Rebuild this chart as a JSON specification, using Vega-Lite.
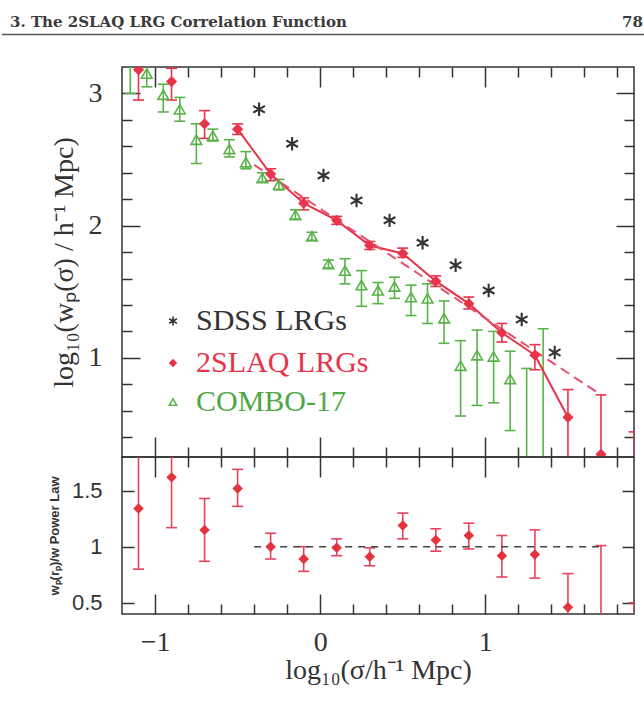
{
  "$schema": "https://vega.github.io/schema/vega-lite/v6.json",
  "autosize": {"type": "pad"},
  "padding": {"left": 0, "top": 14, "right": 0, "bottom": 0},
  "background": "white",
  "spacing": 0,
  "bounds": "flush",
  "config": {
    "view": {"stroke": "#333333", "strokeWidth": 1.5},
    "axis": {"grid": false, "domain": false},
    "font": "Liberation Serif"
  },
  "datasets": {
    "top": [
      {"series": "COMBO-17", "x": -1.15, "y": 3.3, "lo": 3.0, "hi": 3.6},
      {"series": "COMBO-17", "x": -1.05, "y": 3.15, "lo": 3.05, "hi": 3.21},
      {"series": "COMBO-17", "x": -0.95, "y": 2.99, "lo": 2.86, "hi": 3.07},
      {"series": "COMBO-17", "x": -0.85, "y": 2.88, "lo": 2.79, "hi": 2.97},
      {"series": "COMBO-17", "x": -0.75, "y": 2.65, "lo": 2.47, "hi": 2.77},
      {"series": "COMBO-17", "x": -0.65, "y": 2.68, "lo": 2.64, "hi": 2.73},
      {"series": "COMBO-17", "x": -0.55, "y": 2.58, "lo": 2.52, "hi": 2.65},
      {"series": "COMBO-17", "x": -0.45, "y": 2.48, "lo": 2.43, "hi": 2.56},
      {"series": "COMBO-17", "x": -0.35, "y": 2.36, "lo": 2.33, "hi": 2.4},
      {"series": "COMBO-17", "x": -0.25, "y": 2.31, "lo": 2.27, "hi": 2.35},
      {"series": "COMBO-17", "x": -0.15, "y": 2.08, "lo": 2.05, "hi": 2.12},
      {"series": "COMBO-17", "x": -0.05, "y": 1.92, "lo": 1.89, "hi": 1.95},
      {"series": "COMBO-17", "x": 0.05, "y": 1.71, "lo": 1.68, "hi": 1.74},
      {"series": "COMBO-17", "x": 0.15, "y": 1.66, "lo": 1.56, "hi": 1.75},
      {"series": "COMBO-17", "x": 0.25, "y": 1.55, "lo": 1.39, "hi": 1.66},
      {"series": "COMBO-17", "x": 0.35, "y": 1.51, "lo": 1.41, "hi": 1.57},
      {"series": "COMBO-17", "x": 0.45, "y": 1.54, "lo": 1.45, "hi": 1.61},
      {"series": "COMBO-17", "x": 0.55, "y": 1.46, "lo": 1.32, "hi": 1.55},
      {"series": "COMBO-17", "x": 0.65, "y": 1.45, "lo": 1.26, "hi": 1.56},
      {"series": "COMBO-17", "x": 0.75, "y": 1.3, "lo": 1.11, "hi": 1.43},
      {"series": "COMBO-17", "x": 0.85, "y": 0.94, "lo": 0.56, "hi": 1.13},
      {"series": "COMBO-17", "x": 0.95, "y": 1.02, "lo": 0.64, "hi": 1.21},
      {"series": "COMBO-17", "x": 1.05, "y": 1.01, "lo": 0.66, "hi": 1.2},
      {"series": "COMBO-17", "x": 1.15, "y": 0.84, "lo": 0.45, "hi": 1.05},
      {"series": "COMBO-17", "x": 1.25, "y": 0.15, "lo": -0.5, "hi": 0.92},
      {"series": "COMBO-17", "x": 1.35, "y": 0.2, "lo": -0.5, "hi": 1.22},
      {"series": "SDSS LRGs", "x": -0.37, "y": 2.88},
      {"series": "SDSS LRGs", "x": -0.17, "y": 2.62},
      {"series": "SDSS LRGs", "x": 0.02, "y": 2.38},
      {"series": "SDSS LRGs", "x": 0.22, "y": 2.19},
      {"series": "SDSS LRGs", "x": 0.42, "y": 2.04},
      {"series": "SDSS LRGs", "x": 0.62, "y": 1.87},
      {"series": "SDSS LRGs", "x": 0.82, "y": 1.7},
      {"series": "SDSS LRGs", "x": 1.02, "y": 1.51},
      {"series": "SDSS LRGs", "x": 1.22, "y": 1.29},
      {"series": "SDSS LRGs", "x": 1.42, "y": 1.04},
      {"series": "2SLAQ LRGs", "x": -1.1, "y": 3.18, "lo": 2.95, "hi": 3.45},
      {"series": "2SLAQ LRGs", "x": -0.9, "y": 3.09, "lo": 2.95, "hi": 3.19},
      {"series": "2SLAQ LRGs", "x": -0.7, "y": 2.77, "lo": 2.66, "hi": 2.87},
      {"series": "2SLAQ LRGs", "x": -0.5, "y": 2.73, "lo": 2.69, "hi": 2.77},
      {"series": "2SLAQ LRGs", "x": -0.3, "y": 2.39, "lo": 2.34, "hi": 2.43},
      {"series": "2SLAQ LRGs", "x": -0.1, "y": 2.17, "lo": 2.12, "hi": 2.21},
      {"series": "2SLAQ LRGs", "x": 0.1, "y": 2.04, "lo": 2.01, "hi": 2.07},
      {"series": "2SLAQ LRGs", "x": 0.3, "y": 1.85, "lo": 1.82, "hi": 1.88},
      {"series": "2SLAQ LRGs", "x": 0.5, "y": 1.79, "lo": 1.76, "hi": 1.83},
      {"series": "2SLAQ LRGs", "x": 0.7, "y": 1.58, "lo": 1.54, "hi": 1.62},
      {"series": "2SLAQ LRGs", "x": 0.9, "y": 1.41, "lo": 1.37, "hi": 1.46},
      {"series": "2SLAQ LRGs", "x": 1.1, "y": 1.19, "lo": 1.12, "hi": 1.26},
      {"series": "2SLAQ LRGs", "x": 1.3, "y": 1.02, "lo": 0.91, "hi": 1.1},
      {"series": "2SLAQ LRGs", "x": 1.5, "y": 0.55, "lo": 0.0, "hi": 0.76},
      {"series": "2SLAQ LRGs", "x": 1.7, "y": 0.27, "lo": 0.0, "hi": 0.72},
      {"series": "2SLAQ LRGs", "x": 1.9, "y": 0.1, "lo": 0.0, "hi": 0.44}
    ],
    "fit": [
      {"x": -0.4, "y": 2.46},
      {"x": 1.7, "y": 0.72}
    ],
    "ratio": [
      {"x": -1.1, "r": 1.34, "lo": 0.8, "hi": 2.0},
      {"x": -0.9, "r": 1.62, "lo": 1.17, "hi": 2.0},
      {"x": -0.7, "r": 1.15, "lo": 0.87, "hi": 1.43},
      {"x": -0.5, "r": 1.52, "lo": 1.36, "hi": 1.69},
      {"x": -0.3, "r": 1.0, "lo": 0.89, "hi": 1.12},
      {"x": -0.1, "r": 0.89, "lo": 0.78, "hi": 1.0},
      {"x": 0.1, "r": 0.99, "lo": 0.92, "hi": 1.07},
      {"x": 0.3, "r": 0.91, "lo": 0.83, "hi": 0.99},
      {"x": 0.5, "r": 1.19, "lo": 1.07, "hi": 1.3},
      {"x": 0.7, "r": 1.06, "lo": 0.96, "hi": 1.16},
      {"x": 0.9, "r": 1.1, "lo": 0.98, "hi": 1.21},
      {"x": 1.1, "r": 0.92, "lo": 0.73, "hi": 1.1},
      {"x": 1.3, "r": 0.93, "lo": 0.72, "hi": 1.15},
      {"x": 1.5, "r": 0.46, "lo": 0.2, "hi": 0.76},
      {"x": 1.7, "r": 0.3, "lo": 0.1, "hi": 1.01},
      {"x": 1.9, "r": 0.2, "lo": 0.1, "hi": 0.5}
    ],
    "ratioline": [
      {"x": -0.4, "r": 1.0},
      {"x": 1.7, "r": 1.0}
    ]
  },
  "vconcat": [
    {
      "width": 512,
      "height": 390,
      "resolve": {"axis": {"x": "independent", "y": "independent"}},
      "layer": [
        {
          "data": {"name": "top"},
          "transform": [{"filter": "isValid(datum.lo)"}],
          "mark": {"type": "rule", "strokeWidth": 1.6, "clip": true},
          "encoding": {
            "x": {"field": "x", "type": "quantitative", "scale": {"domain": [-1.2, 1.9], "nice": false, "zero": false},
              "axis": {"orient": "bottom", "values": [-1,-0.8,-0.6,-0.4,-0.2,0,0.2,0.4,0.6,0.8,1,1.2,1.4,1.6,1.8], "labels": false, "title": null, "domain": false, "grid": false, "tickColor": "#333333", "tickWidth": 1.5,
                "tickSize": {"condition": {"test": "abs(datum.value - round(datum.value)) < 0.001", "value": -20}, "value": -10}}},
            "y": {"field": "lo", "type": "quantitative", "scale": {"domain": [0.25, 3.2], "nice": false, "zero": false},
              "axis": {"orient": "left", "values": [1, 2, 3], "ticks": false, "domain": false, "grid": false, "format": "~g", "labelFont": "Liberation Serif", "labelFontSize": 28, "labelColor": "#333333", "labelPadding": 20,
                "title": "log₁₀(wₚ(σ) / h⁻¹ Mpc)", "titleFont": "Liberation Serif", "titleFontSize": 28, "titleFontWeight": "normal", "titleColor": "#333333", "titlePadding": 10}},
            "y2": {"field": "hi"},
            "stroke": {"condition": {"test": "datum.series == 'COMBO-17'", "value": "#5ab34a"}, "value": "#e8344a"}
          }
        },
        {
          "data": {"name": "top"},
          "transform": [{"filter": "isValid(datum.lo)"}],
          "mark": {"type": "point", "shape": "M-1,0L1,0", "size": 121, "strokeWidth": 1.6, "filled": false, "opacity": 1, "clip": true},
          "encoding": {
            "x": {"field": "x", "type": "quantitative", "scale": {"domain": [-1.2, 1.9], "nice": false, "zero": false},
              "axis": {"orient": "top", "values": [-1,-0.8,-0.6,-0.4,-0.2,0,0.2,0.4,0.6,0.8,1,1.2,1.4,1.6,1.8], "labels": false, "title": null, "domain": false, "grid": false, "tickColor": "#333333", "tickWidth": 1.5,
                "tickSize": {"condition": {"test": "abs(datum.value - round(datum.value)) < 0.001", "value": -20}, "value": -10}}},
            "y": {"field": "lo", "type": "quantitative", "scale": {"domain": [0.25, 3.2], "nice": false, "zero": false},
              "axis": {"orient": "left", "values": [0.4,0.6,0.8,1,1.2,1.4,1.6,1.8,2,2.2,2.4,2.6,2.8,3], "labels": false, "title": null, "domain": false, "grid": false, "tickColor": "#333333", "tickWidth": 1.5,
                "tickSize": {"condition": {"test": "abs(datum.value - round(datum.value)) < 0.001", "value": -18}, "value": -10}}},
            "stroke": {"condition": {"test": "datum.series == 'COMBO-17'", "value": "#5ab34a"}, "value": "#e8344a"}
          }
        },
        {
          "data": {"name": "top"},
          "transform": [{"filter": "isValid(datum.hi)"}],
          "mark": {"type": "point", "shape": "M-1,0L1,0", "size": 121, "strokeWidth": 1.6, "filled": false, "opacity": 1, "clip": true},
          "encoding": {
            "x": {"field": "x", "type": "quantitative", "scale": {"domain": [-1.2, 1.9], "nice": false, "zero": false}, "axis": null},
            "y": {"field": "hi", "type": "quantitative", "scale": {"domain": [0.25, 3.2], "nice": false, "zero": false},
              "axis": {"orient": "right", "values": [0.4,0.6,0.8,1,1.2,1.4,1.6,1.8,2,2.2,2.4,2.6,2.8,3], "labels": false, "title": null, "domain": false, "grid": false, "tickColor": "#333333", "tickWidth": 1.5,
                "tickSize": {"condition": {"test": "abs(datum.value - round(datum.value)) < 0.001", "value": -18}, "value": -10}}},
            "stroke": {"condition": {"test": "datum.series == 'COMBO-17'", "value": "#5ab34a"}, "value": "#e8344a"}
          }
        },
        {
          "data": {"name": "top"},
          "transform": [{"filter": "datum.series == '2SLAQ LRGs' && datum.x > -0.55 && datum.x < 1.55"}],
          "mark": {"type": "line", "color": "#e8344a", "strokeWidth": 2, "clip": true},
          "encoding": {
            "x": {"field": "x", "type": "quantitative", "scale": {"domain": [-1.2, 1.9], "nice": false, "zero": false}, "axis": null},
            "y": {"field": "y", "type": "quantitative", "scale": {"domain": [0.25, 3.2], "nice": false, "zero": false}, "axis": null}
          }
        },
        {
          "data": {"name": "fit"},
          "mark": {"type": "line", "color": "#e5506e", "strokeWidth": 2, "strokeDash": [10, 6], "clip": true},
          "encoding": {
            "x": {"field": "x", "type": "quantitative", "scale": {"domain": [-1.2, 1.9], "nice": false, "zero": false}, "axis": null},
            "y": {"field": "y", "type": "quantitative", "scale": {"domain": [0.25, 3.2], "nice": false, "zero": false}, "axis": null}
          }
        },
        {
          "data": {"name": "top"},
          "transform": [{"filter": "datum.series == 'COMBO-17'"}],
          "mark": {"type": "point", "shape": "triangle-up", "filled": false, "size": 115, "strokeWidth": 1.6, "opacity": 1, "clip": true},
          "encoding": {
            "x": {"field": "x", "type": "quantitative", "scale": {"domain": [-1.2, 1.9], "nice": false, "zero": false}, "axis": null},
            "y": {"field": "y", "type": "quantitative", "scale": {"domain": [0.25, 3.2], "nice": false, "zero": false}, "axis": null},
            "stroke": {"field": "series", "type": "nominal", "scale": {"domain": ["COMBO-17"], "range": ["#5ab34a"]},
              "legend": {"orient": "none", "legendX": 36, "legendY": 320, "title": null, "labelFont": "Liberation Serif", "labelFontSize": 30, "labelColor": "#4fa845", "labelLimit": 400,
                "symbolSize": 55, "symbolStrokeWidth": 1.5, "symbolType": "triangle-up", "symbolFillColor": "transparent", "labelOffset": 8}}
          }
        },
        {
          "data": {"name": "top"},
          "transform": [{"filter": "datum.series == 'SDSS LRGs'"}],
          "mark": {"type": "point", "filled": false, "color": "#333333", "size": 125, "strokeWidth": 2.1, "opacity": 1, "clip": true},
          "encoding": {
            "x": {"field": "x", "type": "quantitative", "scale": {"domain": [-1.2, 1.9], "nice": false, "zero": false}, "axis": null},
            "y": {"field": "y", "type": "quantitative", "scale": {"domain": [0.25, 3.2], "nice": false, "zero": false}, "axis": null},
            "shape": {"field": "series", "type": "nominal", "scale": {"domain": ["SDSS LRGs"], "range": ["M0,-1.2L0,1.2M-1.04,-0.6L1.04,0.6M-1.04,0.6L1.04,-0.6"]},
              "legend": {"orient": "none", "legendX": 36, "legendY": 239, "title": null, "labelFont": "Liberation Serif", "labelFontSize": 30, "labelColor": "#333333", "labelLimit": 400,
                "symbolSize": 55, "symbolStrokeWidth": 1.6, "symbolStrokeColor": "#333333", "labelOffset": 8}}
          }
        },
        {
          "data": {"name": "top"},
          "transform": [{"filter": "datum.series == '2SLAQ LRGs'"}],
          "mark": {"type": "point", "shape": "diamond", "filled": true, "size": 125, "opacity": 1, "clip": true},
          "encoding": {
            "x": {"field": "x", "type": "quantitative", "scale": {"domain": [-1.2, 1.9], "nice": false, "zero": false}, "axis": null},
            "y": {"field": "y", "type": "quantitative", "scale": {"domain": [0.25, 3.2], "nice": false, "zero": false}, "axis": null},
            "fill": {"field": "series", "type": "nominal", "scale": {"domain": ["2SLAQ LRGs"], "range": ["#e8344a"]},
              "legend": {"orient": "none", "legendX": 36, "legendY": 281, "title": null, "labelFont": "Liberation Serif", "labelFontSize": 30, "labelColor": "#e8344a", "labelLimit": 400,
                "symbolSize": 70, "symbolType": "diamond", "labelOffset": 8}}
          }
        },
        {
          "data": {"values": [{}]},
          "mark": {"type": "text", "text": "3. The 2SLAQ LRG Correlation Function", "align": "left", "baseline": "alphabetic", "font": "DejaVu Serif", "fontWeight": "bold", "fontSize": 15, "color": "#3a3a3a", "clip": false},
          "encoding": {
            "x": {"datum": -1.878, "type": "quantitative", "scale": {"domain": [-1.2, 1.9], "nice": false, "zero": false}, "axis": null},
            "y": {"datum": 3.5026, "type": "quantitative", "scale": {"domain": [0.25, 3.2], "nice": false, "zero": false}, "axis": null}
          }
        },
        {
          "data": {"values": [{}]},
          "mark": {"type": "text", "text": "78", "align": "right", "baseline": "alphabetic", "font": "DejaVu Serif", "fontWeight": "bold", "fontSize": 15, "color": "#3a3a3a", "clip": false},
          "encoding": {
            "x": {"datum": 1.954, "type": "quantitative", "scale": {"domain": [-1.2, 1.9], "nice": false, "zero": false}, "axis": null},
            "y": {"datum": 3.5026, "type": "quantitative", "scale": {"domain": [0.25, 3.2], "nice": false, "zero": false}, "axis": null}
          }
        },
        {
          "data": {"values": [{}]},
          "mark": {"type": "rule", "color": "#555555", "strokeWidth": 1.5, "clip": false},
          "encoding": {
            "x": {"datum": -1.9266, "type": "quantitative", "scale": {"domain": [-1.2, 1.9], "nice": false, "zero": false}, "axis": null},
            "x2": {"datum": 1.9727},
            "y": {"datum": 3.4458, "type": "quantitative", "scale": {"domain": [0.25, 3.2], "nice": false, "zero": false}, "axis": null}
          }
        }
      ]
    },
    {
      "width": 512,
      "height": 157,
      "resolve": {"axis": {"x": "independent", "y": "independent"}},
      "layer": [
        {
          "data": {"name": "ratio"},
          "mark": {"type": "rule", "strokeWidth": 1.6, "color": "#e6445e", "clip": true},
          "encoding": {
            "x": {"field": "x", "type": "quantitative", "scale": {"domain": [-1.2, 1.9], "nice": false, "zero": false},
              "axis": {"orient": "bottom", "values": [-1, 0, 1], "ticks": false, "domain": false, "grid": false, "format": "~g", "labelFont": "Liberation Serif", "labelFontSize": 28, "labelColor": "#333333", "labelPadding": 14,
                "title": "log₁₀(σ/h⁻¹ Mpc)", "titleFont": "Liberation Serif", "titleFontSize": 28, "titleFontWeight": "normal", "titleColor": "#333333", "titlePadding": 0}},
            "y": {"field": "lo", "type": "quantitative", "scale": {"domain": [0.4, 1.8], "nice": false, "zero": false},
              "axis": {"orient": "left", "values": [0.5, 1, 1.5], "ticks": false, "domain": false, "grid": false, "format": "~g", "labelFont": "Liberation Sans", "labelFontSize": 22, "labelColor": "#333333", "labelPadding": 20,
                "title": "wₚ(rₚ)/w Power Law", "titleFont": "Liberation Sans", "titleFontSize": 13, "titleFontWeight": "bold", "titleColor": "#333333", "titlePadding": 10}},
            "y2": {"field": "hi"}
          }
        },
        {
          "data": {"name": "ratio"},
          "mark": {"type": "point", "shape": "M-1,0L1,0", "size": 121, "strokeWidth": 1.6, "filled": false, "opacity": 1, "color": "#e6445e", "clip": true},
          "encoding": {
            "x": {"field": "x", "type": "quantitative", "scale": {"domain": [-1.2, 1.9], "nice": false, "zero": false},
              "axis": {"orient": "bottom", "values": [-1,-0.8,-0.6,-0.4,-0.2,0,0.2,0.4,0.6,0.8,1,1.2,1.4,1.6,1.8], "labels": false, "title": null, "domain": false, "grid": false, "tickColor": "#333333", "tickWidth": 1.5,
                "tickSize": {"condition": {"test": "abs(datum.value - round(datum.value)) < 0.001", "value": -20}, "value": -10}}},
            "y": {"field": "lo", "type": "quantitative", "scale": {"domain": [0.4, 1.8], "nice": false, "zero": false},
              "axis": {"orient": "left", "values": [0.5, 1, 1.5], "labels": false, "title": null, "domain": false, "grid": false, "tickColor": "#333333", "tickWidth": 1.5, "tickSize": -12}}
          }
        },
        {
          "data": {"name": "ratio"},
          "mark": {"type": "point", "shape": "M-1,0L1,0", "size": 121, "strokeWidth": 1.6, "filled": false, "opacity": 1, "color": "#e6445e", "clip": true},
          "encoding": {
            "x": {"field": "x", "type": "quantitative", "scale": {"domain": [-1.2, 1.9], "nice": false, "zero": false},
              "axis": {"orient": "top", "values": [-1,-0.8,-0.6,-0.4,-0.2,0,0.2,0.4,0.6,0.8,1,1.2,1.4,1.6,1.8], "labels": false, "title": null, "domain": false, "grid": false, "tickColor": "#333333", "tickWidth": 1.5,
                "tickSize": {"condition": {"test": "abs(datum.value - round(datum.value)) < 0.001", "value": -20}, "value": -10}}},
            "y": {"field": "hi", "type": "quantitative", "scale": {"domain": [0.4, 1.8], "nice": false, "zero": false},
              "axis": {"orient": "right", "values": [0.5, 1, 1.5], "labels": false, "title": null, "domain": false, "grid": false, "tickColor": "#333333", "tickWidth": 1.5, "tickSize": -12}}
          }
        },
        {
          "data": {"name": "ratioline"},
          "mark": {"type": "line", "color": "#444444", "strokeWidth": 1.5, "strokeDash": [7, 6], "clip": true},
          "encoding": {
            "x": {"field": "x", "type": "quantitative", "scale": {"domain": [-1.2, 1.9], "nice": false, "zero": false}, "axis": null},
            "y": {"field": "r", "type": "quantitative", "scale": {"domain": [0.4, 1.8], "nice": false, "zero": false}, "axis": null}
          }
        },
        {
          "data": {"name": "ratio"},
          "mark": {"type": "point", "shape": "diamond", "filled": true, "size": 110, "color": "#e3343e", "opacity": 1, "clip": true},
          "encoding": {
            "x": {"field": "x", "type": "quantitative", "scale": {"domain": [-1.2, 1.9], "nice": false, "zero": false}, "axis": null},
            "y": {"field": "r", "type": "quantitative", "scale": {"domain": [0.4, 1.8], "nice": false, "zero": false}, "axis": null}
          }
        }
      ]
    }
  ]
}
